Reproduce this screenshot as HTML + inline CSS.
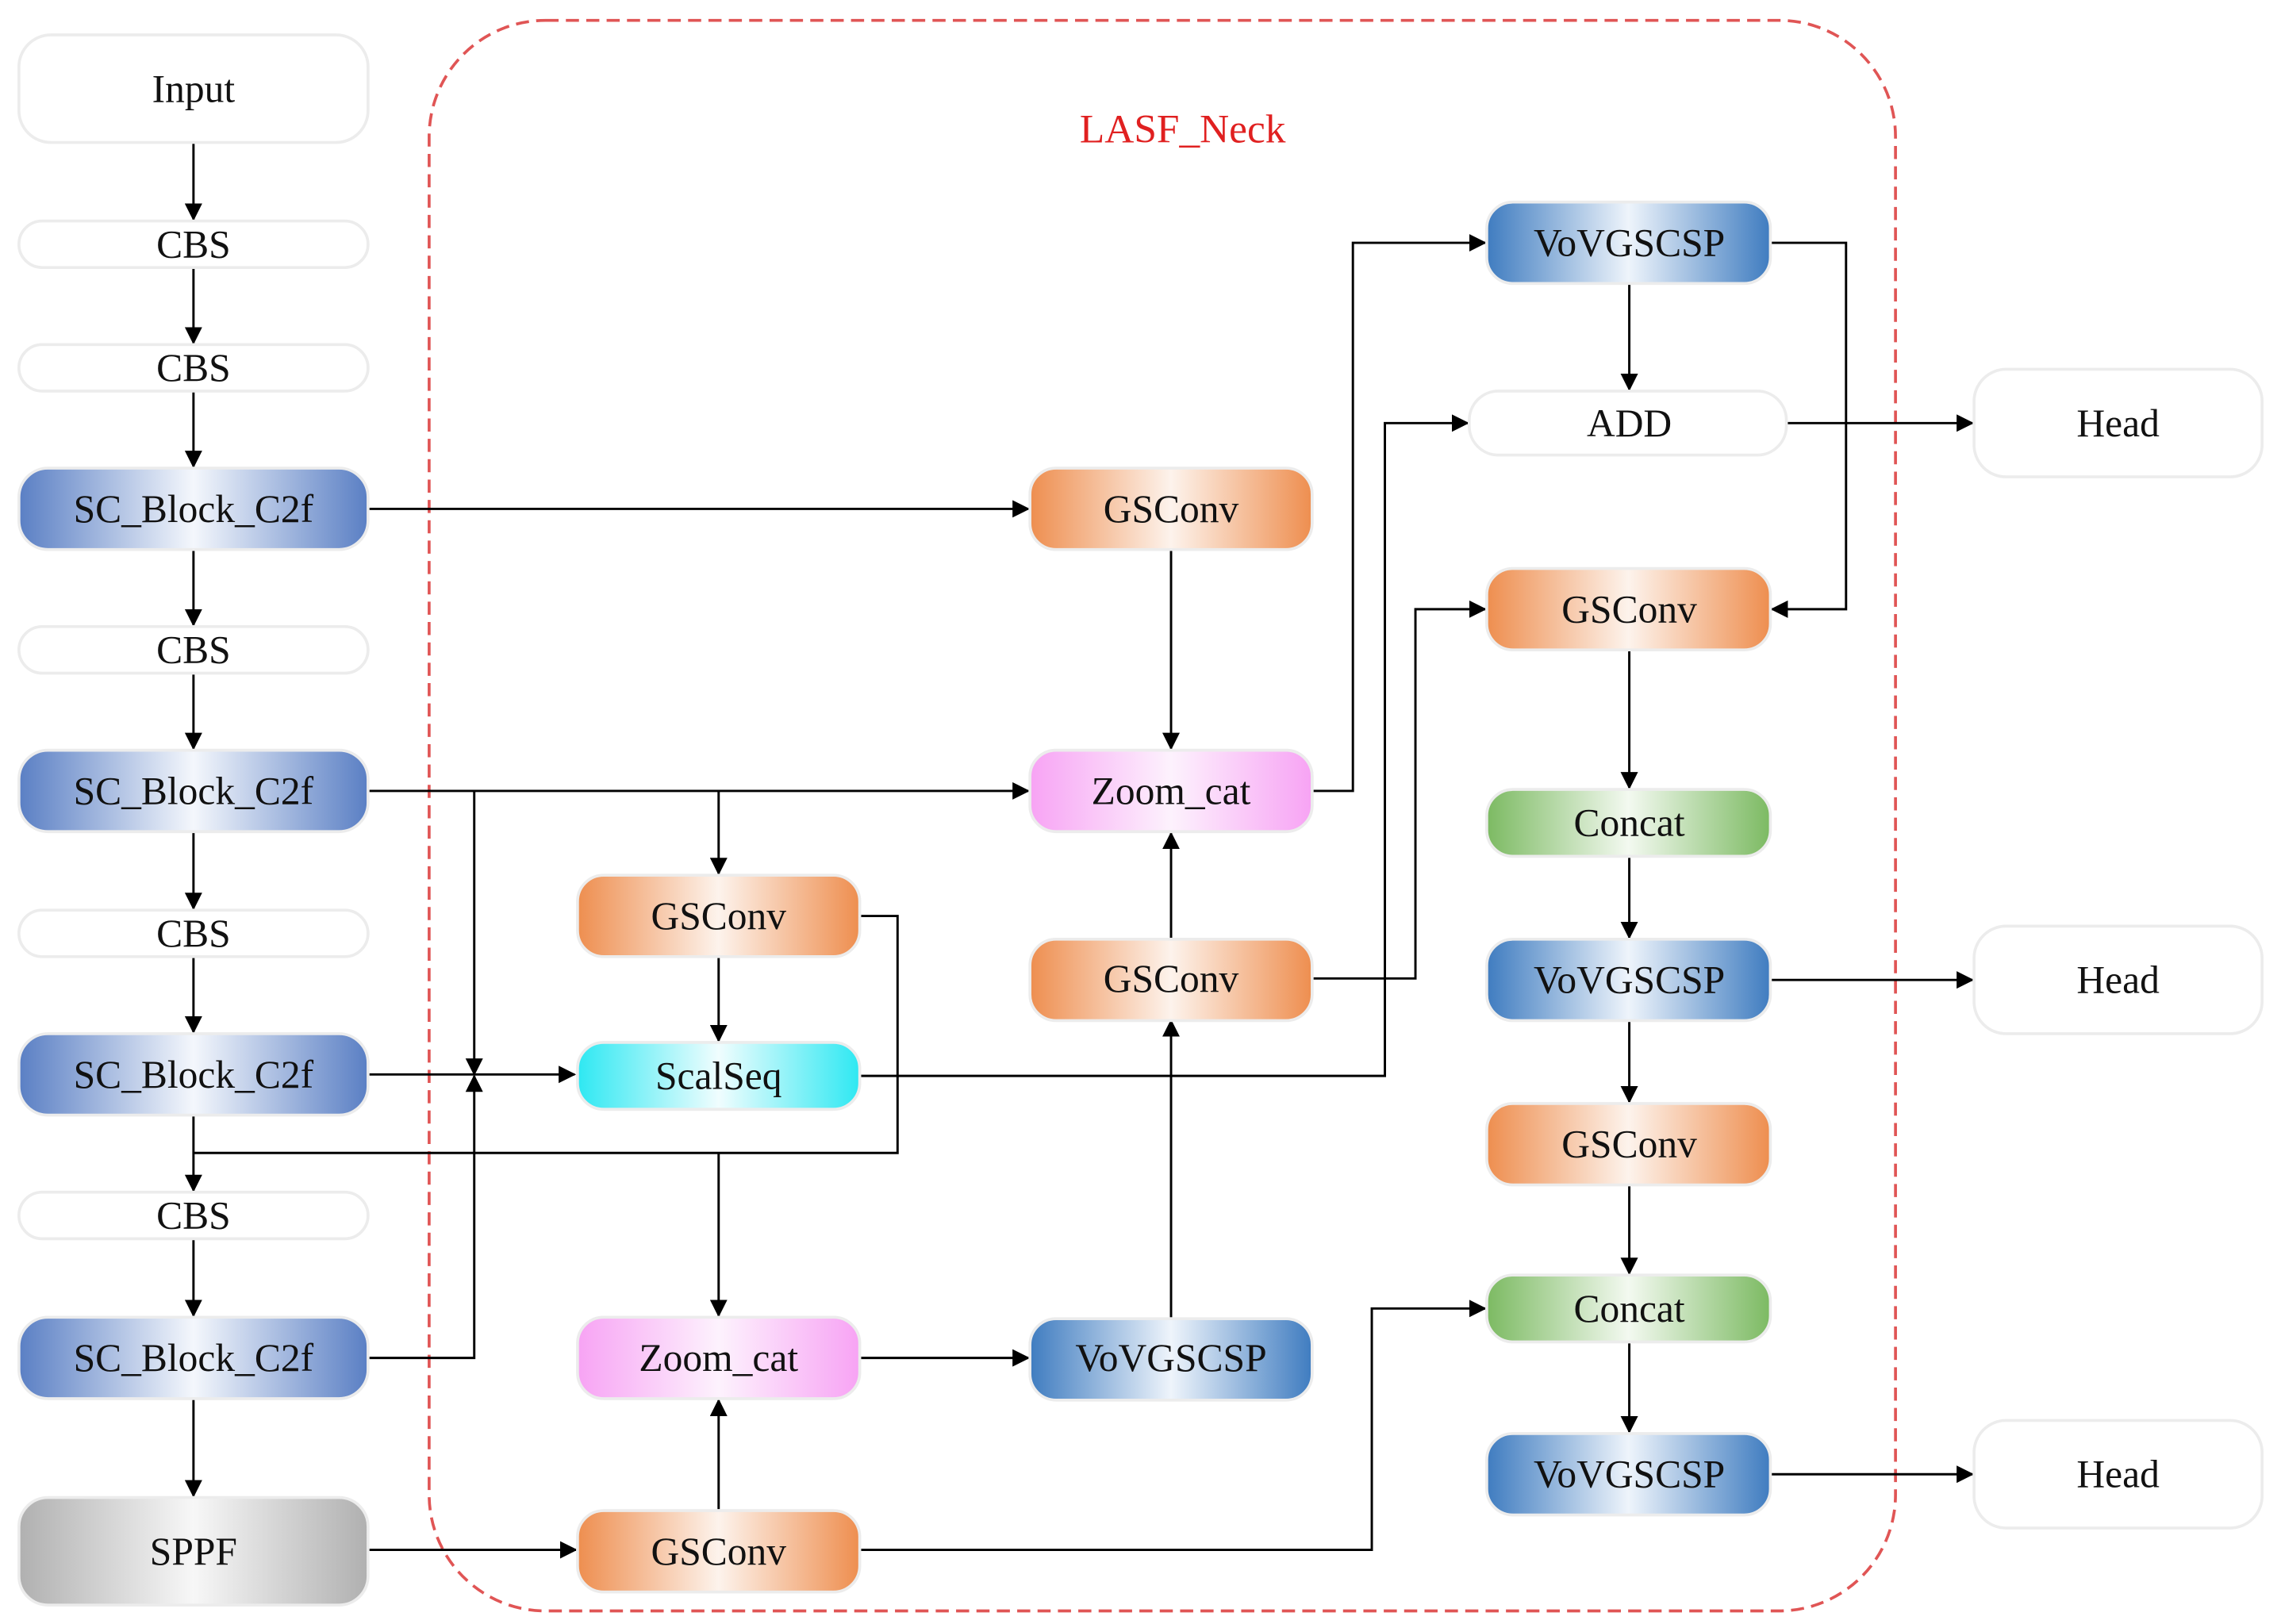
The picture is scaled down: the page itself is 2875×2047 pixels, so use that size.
<!DOCTYPE html>
<html><head><meta charset="utf-8"><style>
html,body{margin:0;padding:0;background:#fff;}
svg{display:block;font-family:"Liberation Serif","DejaVu Serif",serif;}
text{font-family:"Liberation Serif","DejaVu Serif",serif;font-size:27px;fill:#111;stroke:none;text-anchor:middle;dominant-baseline:central;}
</style></head><body>
<svg width="2875" height="2047" viewBox="0 0 1568 1117" preserveAspectRatio="none" xmlns="http://www.w3.org/2000/svg" font-family="Liberation Serif, DejaVu Serif, serif">
<defs>
<linearGradient id="gBlue" x1="0" x2="1"><stop offset="0" stop-color="#5a7fc4"/><stop offset="0.5" stop-color="#f4f7fc"/><stop offset="1" stop-color="#5a7fc4"/></linearGradient>
<linearGradient id="gBlue2" x1="0" x2="1"><stop offset="0" stop-color="#3f7cc0"/><stop offset="0.5" stop-color="#eef4fb"/><stop offset="1" stop-color="#3f7cc0"/></linearGradient>
<linearGradient id="gOr" x1="0" x2="1"><stop offset="0" stop-color="#ee8e4f"/><stop offset="0.5" stop-color="#fdf3ec"/><stop offset="1" stop-color="#ee8e4f"/></linearGradient>
<linearGradient id="gPink" x1="0" x2="1"><stop offset="0" stop-color="#f7a3f4"/><stop offset="0.5" stop-color="#fdf2fd"/><stop offset="1" stop-color="#f7a3f4"/></linearGradient>
<linearGradient id="gCyan" x1="0" x2="1"><stop offset="0" stop-color="#2ee8f2"/><stop offset="0.5" stop-color="#f0fdfe"/><stop offset="1" stop-color="#2ee8f2"/></linearGradient>
<linearGradient id="gGreen" x1="0" x2="1"><stop offset="0" stop-color="#7cba62"/><stop offset="0.5" stop-color="#f3f9f0"/><stop offset="1" stop-color="#7cba62"/></linearGradient>
<linearGradient id="gGray" x1="0" x2="1"><stop offset="0" stop-color="#b0b0b0"/><stop offset="0.5" stop-color="#f7f7f7"/><stop offset="1" stop-color="#b0b0b0"/></linearGradient>
<marker id="a" markerWidth="12" markerHeight="12" refX="11" refY="6" orient="auto" markerUnits="userSpaceOnUse" viewBox="0 0 12 12"><path d="M0,0 L12,6 L0,12 z" fill="#000"/></marker>
</defs>

<rect x="295" y="14" width="1008" height="1094" rx="80" fill="none" stroke="#e05555" stroke-width="2" stroke-dasharray="9,5"/>
<text x="813" y="89" style="fill:#e02020;font-size:28px;font-family:'Liberation Serif',serif">LASF_Neck</text>

<g stroke="#000" stroke-width="1.6" fill="none">
<line x1="133" y1="98" x2="133" y2="151" marker-end="url(#a)"/>
<line x1="133" y1="184" x2="133" y2="236" marker-end="url(#a)"/>
<line x1="133" y1="269" x2="133" y2="321" marker-end="url(#a)"/>
<line x1="133" y1="378" x2="133" y2="430" marker-end="url(#a)"/>
<line x1="133" y1="463" x2="133" y2="515" marker-end="url(#a)"/>
<line x1="133" y1="572" x2="133" y2="625" marker-end="url(#a)"/>
<line x1="133" y1="658" x2="133" y2="710" marker-end="url(#a)"/>
<line x1="133" y1="767" x2="133" y2="819" marker-end="url(#a)"/>
<line x1="133" y1="852" x2="133" y2="905" marker-end="url(#a)"/>
<line x1="133" y1="962" x2="133" y2="1029" marker-end="url(#a)"/>
<line x1="253" y1="350" x2="707" y2="350" marker-end="url(#a)"/>
<line x1="805" y1="378" x2="805" y2="515" marker-end="url(#a)"/>
<line x1="253" y1="544" x2="707" y2="544" marker-end="url(#a)"/>
<line x1="326" y1="544" x2="326" y2="739" marker-end="url(#a)"/>
<line x1="494" y1="544" x2="494" y2="601" marker-end="url(#a)"/>
<line x1="253" y1="739" x2="395" y2="739" marker-end="url(#a)"/>
<polyline points="253,934 326,934 326,740" marker-end="url(#a)"/>
<polyline points="591,630 617,630 617,793 133,793"/>
<line x1="494" y1="793" x2="494" y2="905" marker-end="url(#a)"/>
<line x1="494" y1="658" x2="494" y2="716" marker-end="url(#a)"/>
<polyline points="591,740 952,740 952,291 1009,291" marker-end="url(#a)"/>
<polyline points="902,544 930,544 930,167 1021,167" marker-end="url(#a)"/>
<polyline points="902,673 973,673 973,419 1021,419" marker-end="url(#a)"/>
<line x1="805" y1="645" x2="805" y2="573" marker-end="url(#a)"/>
<line x1="805" y1="906" x2="805" y2="702" marker-end="url(#a)"/>
<line x1="591" y1="934" x2="707" y2="934" marker-end="url(#a)"/>
<line x1="494" y1="1038" x2="494" y2="963" marker-end="url(#a)"/>
<line x1="253" y1="1066" x2="396" y2="1066" marker-end="url(#a)"/>
<polyline points="591,1066 943,1066 943,900 1021,900" marker-end="url(#a)"/>
<polyline points="1217,167 1269,167 1269,419 1218,419" marker-end="url(#a)"/>
<line x1="1120" y1="195" x2="1120" y2="268" marker-end="url(#a)"/>
<line x1="1228" y1="291" x2="1356" y2="291" marker-end="url(#a)"/>
<line x1="1120" y1="447" x2="1120" y2="542" marker-end="url(#a)"/>
<line x1="1120" y1="590" x2="1120" y2="645" marker-end="url(#a)"/>
<line x1="1217" y1="674" x2="1356" y2="674" marker-end="url(#a)"/>
<line x1="1120" y1="702" x2="1120" y2="758" marker-end="url(#a)"/>
<line x1="1120" y1="815" x2="1120" y2="876" marker-end="url(#a)"/>
<line x1="1120" y1="924" x2="1120" y2="985" marker-end="url(#a)"/>
<line x1="1217" y1="1014" x2="1356" y2="1014" marker-end="url(#a)"/>
</g>

<g stroke="#ececec" stroke-width="2">
<rect x="13" y="24" width="240" height="74" rx="22" fill="#fff"/><text x="133" y="61">Input</text>
<rect x="13" y="152" width="240" height="32" rx="16" fill="#fff"/><text x="133" y="168">CBS</text>
<rect x="13" y="237" width="240" height="32" rx="16" fill="#fff"/><text x="133" y="253">CBS</text>
<rect x="13" y="322" width="240" height="56" rx="20" fill="url(#gBlue)"/><text x="133" y="350">SC_Block_C2f</text>
<rect x="13" y="431" width="240" height="32" rx="16" fill="#fff"/><text x="133" y="447">CBS</text>
<rect x="13" y="516" width="240" height="56" rx="20" fill="url(#gBlue)"/><text x="133" y="544">SC_Block_C2f</text>
<rect x="13" y="626" width="240" height="32" rx="16" fill="#fff"/><text x="133" y="642">CBS</text>
<rect x="13" y="711" width="240" height="56" rx="20" fill="url(#gBlue)"/><text x="133" y="739">SC_Block_C2f</text>
<rect x="13" y="820" width="240" height="32" rx="16" fill="#fff"/><text x="133" y="836">CBS</text>
<rect x="13" y="906" width="240" height="56" rx="20" fill="url(#gBlue)"/><text x="133" y="934">SC_Block_C2f</text>
<rect x="13" y="1030" width="240" height="74" rx="20" fill="url(#gGray)"/><text x="133" y="1067">SPPF</text>
<rect x="397" y="602" width="194" height="56" rx="18" fill="url(#gOr)"/><text x="494" y="630">GSConv</text>
<rect x="397" y="717" width="194" height="46" rx="18" fill="url(#gCyan)"/><text x="494" y="740">ScalSeq</text>
<rect x="397" y="906" width="194" height="56" rx="18" fill="url(#gPink)"/><text x="494" y="934">Zoom_cat</text>
<rect x="397" y="1039" width="194" height="56" rx="18" fill="url(#gOr)"/><text x="494" y="1067">GSConv</text>
<rect x="708" y="322" width="194" height="56" rx="18" fill="url(#gOr)"/><text x="805" y="350">GSConv</text>
<rect x="708" y="516" width="194" height="56" rx="18" fill="url(#gPink)"/><text x="805" y="544">Zoom_cat</text>
<rect x="708" y="646" width="194" height="56" rx="18" fill="url(#gOr)"/><text x="805" y="673">GSConv</text>
<rect x="708" y="907" width="194" height="56" rx="18" fill="url(#gBlue2)"/><text x="805" y="934">VoVGSCSP</text>
<rect x="1022" y="139" width="195" height="56" rx="18" fill="url(#gBlue2)"/><text x="1120" y="167">VoVGSCSP</text>
<rect x="1010" y="269" width="218" height="44" rx="20" fill="#fff"/><text x="1120" y="291">ADD</text>
<rect x="1022" y="391" width="195" height="56" rx="18" fill="url(#gOr)"/><text x="1120" y="419">GSConv</text>
<rect x="1022" y="543" width="195" height="46" rx="18" fill="url(#gGreen)"/><text x="1120" y="566">Concat</text>
<rect x="1022" y="646" width="195" height="56" rx="18" fill="url(#gBlue2)"/><text x="1120" y="674">VoVGSCSP</text>
<rect x="1022" y="759" width="195" height="56" rx="18" fill="url(#gOr)"/><text x="1120" y="787">GSConv</text>
<rect x="1022" y="877" width="195" height="46" rx="18" fill="url(#gGreen)"/><text x="1120" y="900">Concat</text>
<rect x="1022" y="986" width="195" height="56" rx="18" fill="url(#gBlue2)"/><text x="1120" y="1014">VoVGSCSP</text>
<rect x="1357" y="254" width="198" height="74" rx="22" fill="#fff"/><text x="1456" y="291">Head</text>
<rect x="1357" y="637" width="198" height="74" rx="22" fill="#fff"/><text x="1456" y="674">Head</text>
<rect x="1357" y="977" width="198" height="74" rx="22" fill="#fff"/><text x="1456" y="1014">Head</text>
</g>
</svg>
</body></html>
